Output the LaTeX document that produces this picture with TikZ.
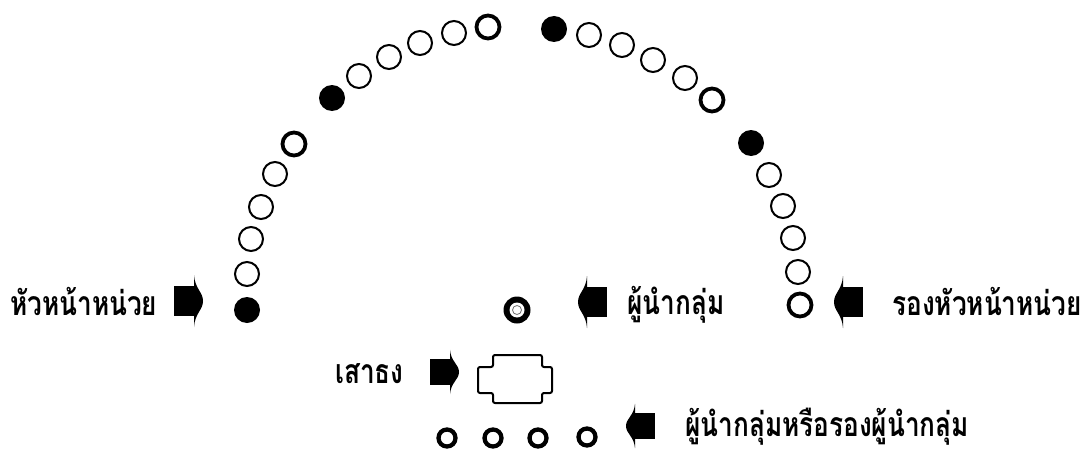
\documentclass[tikz,border=0pt]{standalone}
\usepackage{fontspec}
\usepackage{graphicx}
\newfontfamily\thaifont[Script=Thai]{Loma}
\newcommand{\tallthai}[1]{\scalebox{0.97}[1.25]{#1}}
\begin{document}
\begin{tikzpicture}[x=1pt,y=-1pt,
  opencirc/.style={circle,draw=black,line width=2pt,minimum size=24pt,inner sep=0pt},
  thickcirc/.style={circle,draw=black,line width=3.8pt,minimum size=23pt,inner sep=0pt},
  fillcirc/.style={circle,fill=black,minimum size=26pt,inner sep=0pt},
  rowcirc/.style={circle,draw=black,line width=4.3pt,minimum size=17pt,inner sep=0pt},
  lbl/.style={font=\thaifont\bfseries\fontsize{27}{30}\selectfont,inner sep=0pt},
  ptr/.pic={
    \fill (0,-15) rectangle (20.5,15);
    \fill (20,-26) .. controls (21,-12) and (29,-9) .. (29,0)
          .. controls (29,9) and (21,12) .. (20,26) -- cycle;
  }]
\useasboundingbox (0,0) rectangle (1086,452);
% left side of arc (bottom up)
\node[fillcirc]  (a1) at (247,310) {};
\node[opencirc]  (a2) at (247,274) {};
\node[opencirc]  (a3) at (251,239) {};
\node[opencirc]  (a4) at (261,207) {};
\node[opencirc]  (a5) at (275,174) {};
\node[thickcirc] (a6) at (294,144) {};
\node[fillcirc]  (a7) at (332,98) {};
\node[opencirc]  (a8) at (359,76) {};
\node[opencirc]  (a9) at (389,57) {};
\node[opencirc]  (a10) at (420,43) {};
\node[opencirc]  (a11) at (454,33) {};
\node[thickcirc] (a12) at (488,27) {};
% right side of arc
\node[fillcirc]  (b1) at (554,29) {};
\node[opencirc]  (b2) at (589,35) {};
\node[opencirc]  (b3) at (622,45) {};
\node[opencirc]  (b4) at (653,60) {};
\node[opencirc]  (b5) at (685,78) {};
\node[thickcirc] (b6) at (712,100) {};
\node[fillcirc]  (b7) at (751,143) {};
\node[opencirc]  (b8) at (769,175) {};
\node[opencirc]  (b9) at (783,206) {};
\node[opencirc]  (b10) at (793,238) {};
\node[opencirc]  (b11) at (798,272) {};
\node[thickcirc] (b12) at (800,305) {};
% group leader ring
\node[circle,fill=black,minimum size=27pt,inner sep=0pt] (lead) at (517,310) {};
\fill[white] (lead.center) circle (7.5);
\draw[black!55,line width=0.8pt] (lead.center) circle (4.5);
% flag pole base
\coordinate (fp) at (515,379);
\draw[line width=2pt,rounded corners=2pt] ([shift={(-22,-24)}]fp) -- ([shift={(27,-24)}]fp)
  -- ([shift={(27,-12)}]fp) -- ([shift={(37,-12)}]fp) -- ([shift={(37,14)}]fp)
  -- ([shift={(27,14)}]fp) -- ([shift={(27,24)}]fp) -- ([shift={(-22,24)}]fp)
  -- ([shift={(-22,14)}]fp) -- ([shift={(-37,14)}]fp) -- ([shift={(-37,-12)}]fp)
  -- ([shift={(-22,-12)}]fp) -- cycle;
% bottom row
\node[rowcirc] (r1) at (447,438) {};
\node[rowcirc] (r2) at (493,438) {};
\node[rowcirc] (r3) at (538,438) {};
\node[rowcirc] (r4) at (587,437) {};
% pointers
\pic at (174,301) {ptr};
\pic[xscale=-1] at (607,302) {ptr};
\pic[xscale=-1] at (863,302) {ptr};
\pic[yscale=0.85] at (430,372) {ptr};
\pic[yscale=0.85,xscale=-1] at (655,426) {ptr};
% labels
\node[lbl,anchor=base west] (t1) at (10,315) {\tallthai{หัวหน้าหน่วย}};
\node[lbl,anchor=base west] (t2) at (627,314) {\tallthai{ผู้นำกลุ่ม}};
\node[lbl,anchor=base west] (t3) at (892,315) {\tallthai{รองหัวหน้าหน่วย}};
\node[lbl,anchor=base west] (t4) at (335,383) {\tallthai{เสาธง}};
\node[lbl,anchor=base west] (t5) at (685,436) {\tallthai{ผู้นำกลุ่มหรือรองผู้นำกลุ่ม}};
\end{tikzpicture}
\end{document}
